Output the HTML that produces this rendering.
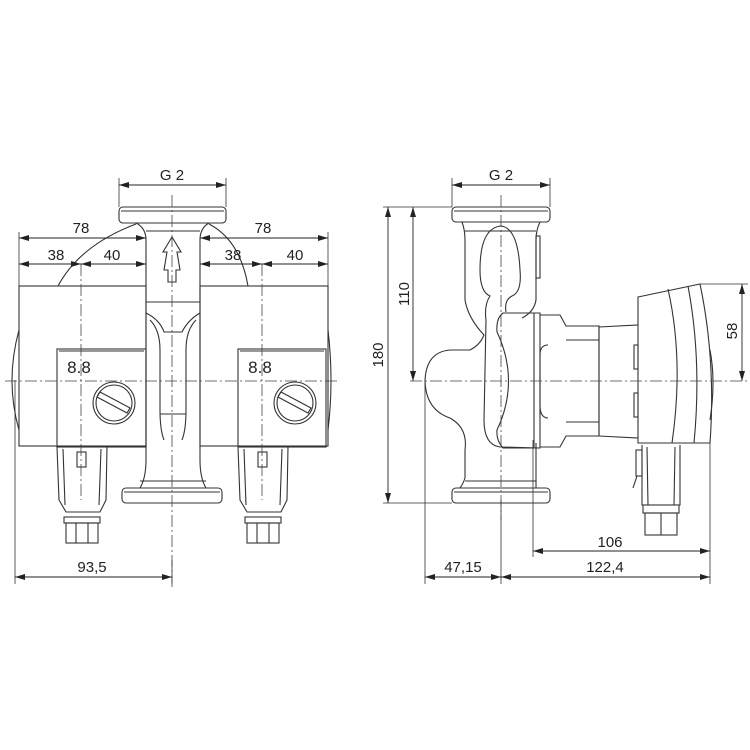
<!DOCTYPE html>
<html><head><meta charset="utf-8"><style>
html,body{margin:0;padding:0;background:#fff}
svg{display:block}
text{font-family:"Liberation Sans",sans-serif;font-size:15px;fill:#222}
</style></head><body>
<svg width="750" height="750" viewBox="0 0 750 750" xmlns="http://www.w3.org/2000/svg">
<defs>
<marker id="a" viewBox="0 0 10 6" refX="10" refY="3" markerWidth="10" markerHeight="6" orient="auto-start-reverse" markerUnits="userSpaceOnUse"><path d="M0,0 L10,3 L0,6z" fill="#222"/></marker>
</defs>
<g fill="none" stroke="#333" stroke-width="1.1">
<!-- ===== LEFT VIEW ===== -->
<!-- flanges -->
<rect x="119" y="207" width="107" height="16" rx="4"/>
<line x1="121" y1="211" x2="224" y2="211"/>
<rect x="122" y="488" width="100" height="15" rx="4"/>
<line x1="124" y1="492" x2="220" y2="492"/>
<!-- pipe -->
<path d="M136,223 Q146,228 146,240 L146,460 Q146,478 140,488"/>
<path d="M209,223 Q200,228 200,240 L200,460 Q200,478 206,488"/>
<line x1="146" y1="231" x2="200" y2="231"/>
<line x1="146" y1="302" x2="200" y2="302"/>
<path d="M146,313 Q160,320 164,332 L182,332 Q188,320 200,313"/>
<path d="M150,320 Q160,330 160,350 L160,410 Q160,430 164,440 M196,320 Q186,330 186,350 L186,410 Q186,430 182,440"/>
<line x1="160" y1="414" x2="186" y2="414"/>
<line x1="140" y1="481" x2="206" y2="481"/>
<!-- arrow -->
<path d="M172,237 L163,252 L167,252 L164,270 L168,270 L168,282 L176,282 L176,270 L180,270 L177,252 L181,252 Z"/>
<!-- arcs -->
<path d="M58,286 Q80,245 136,224"/>
<path d="M209,224 Q240,240 248,286"/>
<!-- left motor -->
<rect x="19" y="286" width="127" height="160"/>
<path d="M19,330 Q5,381 19,430"/>
<rect x="57" y="349" width="89" height="98"/>
<line x1="59" y1="351" x2="144" y2="351"/>
<circle cx="114" cy="403" r="21"/>
<circle cx="114" cy="403" r="18"/>
<path d="M100,392 L130,408 L127,413 L97,397 Z"/>
<!-- left connector -->
<path d="M57,447 L59,500 L66,512 L100,512 L106,500 L107,447"/>
<line x1="63" y1="449" x2="65" y2="505"/>
<line x1="101" y1="449" x2="99" y2="505"/>
<rect x="77" y="452" width="9" height="15"/>
<rect x="64" y="517" width="36" height="6"/>
<rect x="66" y="523" width="32" height="20"/>
<line x1="76" y1="523" x2="76" y2="543"/><line x1="88" y1="523" x2="88" y2="543"/>
<!-- right motor -->
<rect x="200" y="286" width="128" height="160"/>
<path d="M328,330 Q334,381 328,430"/>
<rect x="238" y="349" width="88" height="98"/>
<line x1="240" y1="351" x2="324" y2="351"/>
<circle cx="295" cy="403" r="21"/>
<circle cx="295" cy="403" r="18"/>
<path d="M281,392 L311,408 L308,413 L278,397 Z"/>
<path d="M238,447 L240,500 L247,512 L281,512 L287,500 L288,447"/>
<line x1="244" y1="449" x2="246" y2="505"/>
<line x1="282" y1="449" x2="280" y2="505"/>
<rect x="258" y="452" width="9" height="15"/>
<rect x="245" y="517" width="36" height="6"/>
<rect x="247" y="523" width="32" height="20"/>
<line x1="257" y1="523" x2="257" y2="543"/><line x1="269" y1="523" x2="269" y2="543"/>

<!-- ===== RIGHT VIEW ===== -->
<rect x="452" y="207" width="98" height="15" rx="4"/>
<line x1="454" y1="211" x2="548" y2="211"/>
<rect x="452" y="488" width="98" height="15" rx="4"/>
<line x1="454" y1="492" x2="548" y2="492"/>
<path d="M462,222 Q465,230 465,240 L465,300 Q468,318 484,335 Q480,345 470,350 L450,350 Q426,352 425,381 Q426,410 450,418 Q468,428 465,450 L465,478 Q463,484 460,488"/>
<path d="M540,222 Q536,230 536,240 L536,300 Q534,312 522,318"/>
<path d="M536,443 L536,488"/>
<line x1="465" y1="231" x2="536" y2="231"/>
<line x1="465" y1="481" x2="536" y2="481"/>
<path d="M501,226 Q480,228 480,270 Q480,292 490,296 Q484,305 486,320 L484,420 Q484,445 500,447 L540,448"/>
<path d="M501,226 Q518,228 520,270 Q522,292 512,296 Q504,300 506,312"/>
<rect x="536" y="236" width="4" height="42"/>
<path d="M503,313 L540,313 L540,448 L503,448 Q496,440 497,430 Q520,381 497,332 Q496,318 503,313Z"/>
<line x1="534" y1="313" x2="534" y2="448"/>
<path d="M540,315 L560,315 L566,326 L599,326 L599,436 L566,436 L560,447 L540,447"/>
<line x1="566" y1="340" x2="599" y2="340"/><line x1="566" y1="422" x2="599" y2="422"/>
<path d="M548,345 Q540,345 540,355 L540,405 Q540,418 548,418"/>
<line x1="599" y1="327" x2="638" y2="325"/><line x1="599" y1="436" x2="638" y2="438"/>
<line x1="599" y1="326" x2="599" y2="436"/>
<path d="M638,297 L700,284 Q716,360 710,443 L638,443 Z"/>
<path d="M668,289 Q684,360 672,443"/>
<path d="M688,286 Q702,360 694,443"/>
<rect x="634" y="345" width="4" height="24"/><rect x="634" y="393" width="4" height="24"/>
<path d="M710,350 Q716,381 710,420"/>
<path d="M642,445 L642,505 L680,505 L680,445"/>
<line x1="647" y1="447" x2="648" y2="505"/><line x1="675" y1="447" x2="674" y2="505"/>
<rect x="636" y="450" width="6" height="26"/>
<line x1="637" y1="476" x2="633" y2="488"/>
<rect x="643" y="505" width="36" height="8"/>
<rect x="645" y="513" width="32" height="22"/>
<line x1="661" y1="513" x2="661" y2="535"/>
</g>

<!-- center lines -->
<g stroke="#444" stroke-width="0.8" stroke-dasharray="12,3,2,3" fill="none">
<line x1="5" y1="381" x2="340" y2="381"/>
<line x1="172" y1="195" x2="172" y2="590"/>
<line x1="81" y1="264" x2="81" y2="500"/>
<line x1="262" y1="264" x2="262" y2="500"/>
<line x1="410" y1="381" x2="748" y2="381"/>
<line x1="501" y1="195" x2="501" y2="520"/>
</g>

<!-- dimension lines -->
<g stroke="#333" stroke-width="0.8" fill="none">
<line x1="119" y1="178" x2="119" y2="207"/><line x1="226" y1="178" x2="226" y2="207"/>
<line x1="19" y1="232" x2="19" y2="446"/>
<line x1="328" y1="232" x2="328" y2="446"/>
<line x1="15" y1="380" x2="15" y2="584"/>
<line x1="172" y1="560" x2="172" y2="584"/>
<line x1="452" y1="178" x2="452" y2="207"/><line x1="550" y1="178" x2="550" y2="207"/>
<line x1="383" y1="207" x2="452" y2="207"/>
<line x1="383" y1="503" x2="452" y2="503"/>
<line x1="700" y1="284" x2="748" y2="284"/>
<line x1="425" y1="381" x2="425" y2="584"/>
<line x1="501" y1="500" x2="501" y2="584"/>
<line x1="533" y1="440" x2="533" y2="557"/>
<line x1="710" y1="443" x2="710" y2="584"/>
</g>
<g stroke="#222" stroke-width="0.9" marker-start="url(#a)" marker-end="url(#a)">
<line x1="119" y1="185" x2="226" y2="185"/>
<line x1="19" y1="238" x2="146" y2="238"/>
<line x1="19" y1="264" x2="81" y2="264"/>
<line x1="81" y1="264" x2="146" y2="264"/>
<line x1="200" y1="238" x2="328" y2="238"/>
<line x1="200" y1="264" x2="262" y2="264"/>
<line x1="262" y1="264" x2="328" y2="264"/>
<line x1="15" y1="577" x2="172" y2="577"/>
<line x1="452" y1="185" x2="550" y2="185"/>
<line x1="388" y1="207" x2="388" y2="503"/>
<line x1="413" y1="207" x2="413" y2="381"/>
<line x1="742" y1="284" x2="742" y2="381"/>
<line x1="533" y1="551" x2="710" y2="551"/>
<line x1="425" y1="577" x2="501" y2="577"/>
<line x1="501" y1="577" x2="710" y2="577"/>
</g>

<!-- texts -->
<g text-anchor="middle">
<text x="172" y="180">G 2</text>
<text x="81" y="233">78</text>
<text x="56" y="260">38</text>
<text x="112" y="260">40</text>
<text x="263" y="233">78</text>
<text x="233" y="260">38</text>
<text x="295" y="260">40</text>
<text x="92" y="572">93,5</text>
<text x="501" y="180">G 2</text>
<text x="610" y="547">106</text>
<text x="463" y="572">47,15</text>
<text x="605" y="572">122,4</text>
<text transform="translate(383,355) rotate(-90)">180</text>
<text transform="translate(409,294) rotate(-90)">110</text>
<text transform="translate(737,331) rotate(-90)">58</text>
<text x="79" y="373" style="font-size:17px">8.8</text>
<text x="260" y="373" style="font-size:17px">8.8</text>
</g>
</svg>
</body></html>
